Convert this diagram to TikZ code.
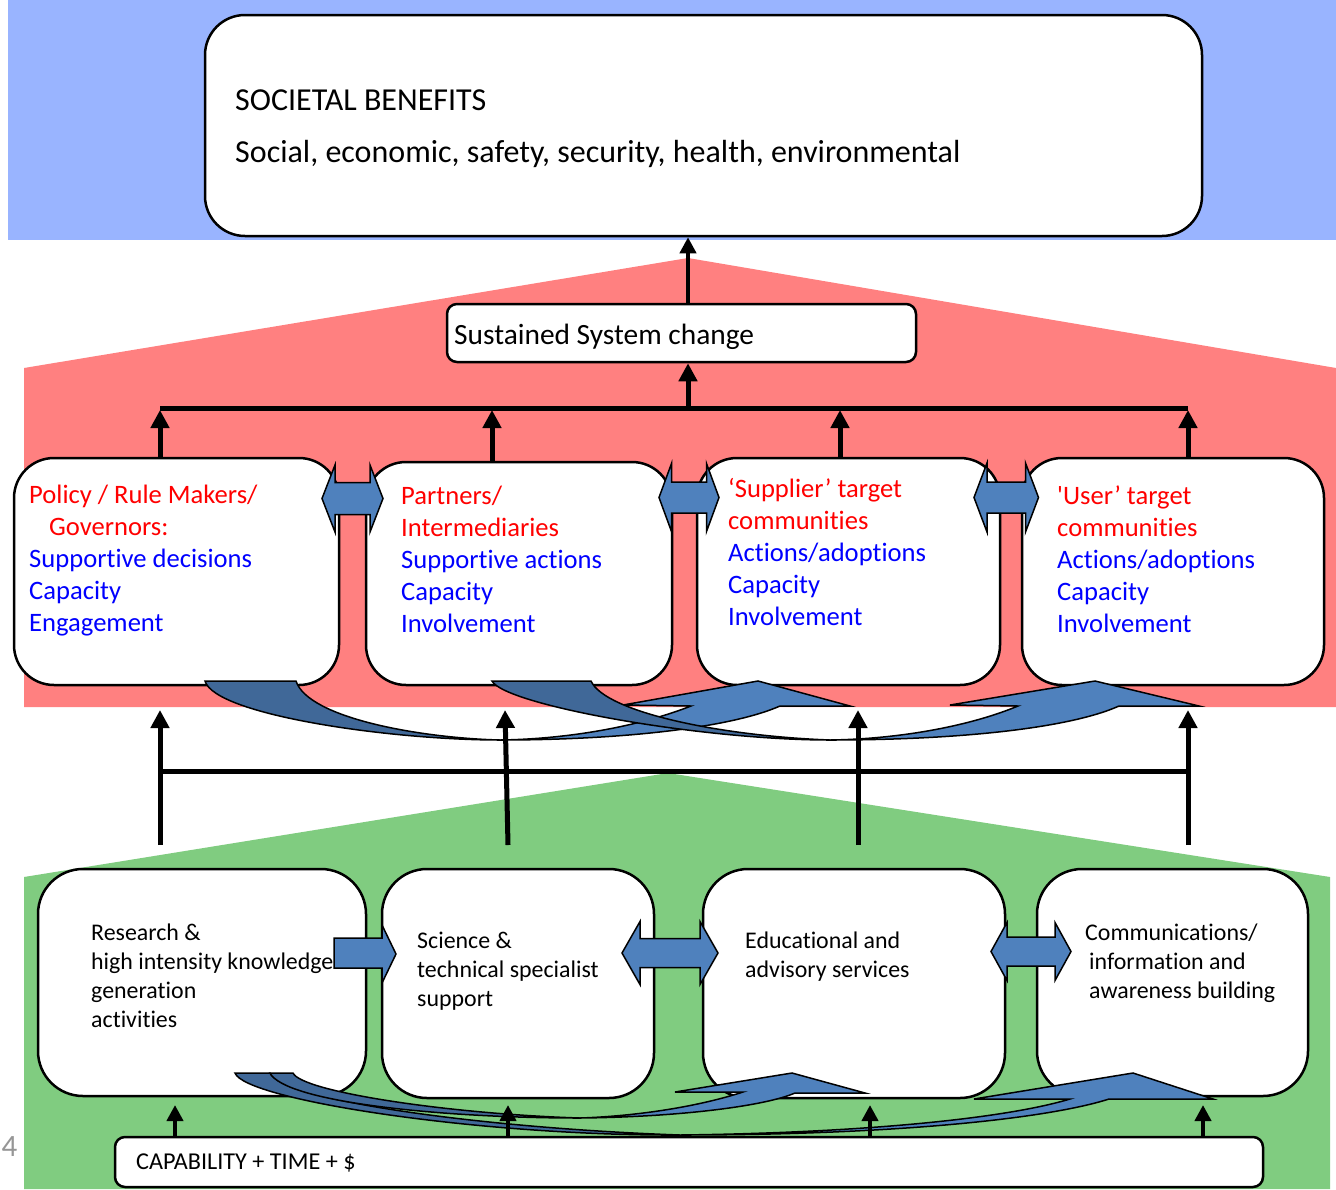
\documentclass[tikz,border=0pt]{standalone}
\usepackage{fontspec}
\setmainfont{Carlito}[Ligatures={TeX,NoCommon}]
\usetikzlibrary{arrows.meta}
\definecolor{skyband}{RGB}{153,180,255}
\definecolor{redband}{RGB}{255,128,128}
\definecolor{greenband}{RGB}{128,204,128}
\definecolor{arrowblue}{RGB}{79,129,189}
\definecolor{arrowdark}{RGB}{64,104,152}
\definecolor{txtred}{RGB}{255,0,0}
\definecolor{txtblue}{RGB}{0,0,255}
\definecolor{pagegray}{RGB}{150,150,150}

% block arrow with a head at both ends: left tip x, right tip x, head length, centre y, half head height, half shaft height
\newcommand\BlockDouble[6]{%
  \filldraw[blockarrow] (#1,#4) -- ({#1+#3},{#4-#5}) -- ({#1+#3},{#4-#6}) -- ({#2-#3},{#4-#6})
    -- ({#2-#3},{#4-#5}) -- (#2,#4) -- ({#2-#3},{#4+#5}) -- ({#2-#3},{#4+#6})
    -- ({#1+#3},{#4+#6}) -- ({#1+#3},{#4+#5}) -- cycle;}

\begin{document}
\begin{tikzpicture}[x=1pt,y=-1pt,
  card/.style={draw=black, line width=2.5pt, fill=white, rounded corners=#1, inner sep=0pt},
  card/.default=40pt,
  blockarrow/.style={fill=arrowblue, draw=black, line width=1.5pt, line join=miter},
  darkband/.style={fill=arrowdark, draw=black, line width=1.5pt, line join=miter},
  lightband/.style={fill=arrowblue, draw=black, line width=1.5pt, line join=miter},
  conn/.style={line width=5pt, -{Triangle[width=18pt,length=18pt]}},
  thinconn/.style={line width=4.5pt, -{Triangle[width=16pt,length=16pt]}},
  busbar/.style={line width=5pt},
  bigtext/.style={font=\fontsize{32}{38}\selectfont, inner sep=0pt, anchor=base west},
  midtext/.style={font=\fontsize{26.6}{32}\selectfont, inner sep=0pt, anchor=north west, align=left},
  lowtext/.style={font=\fontsize{23.9}{29}\selectfont, inner sep=0pt, anchor=north west, align=left},
]
\useasboundingbox (0,0) rectangle (1336,1189);
\fill[white] (0,0) rectangle (1336,1189);

% coloured bands
\fill[skyband] (8,0) rectangle (1336,240);
\fill[redband] (24,707) -- (24,368) -- (688,258) -- (1336,368) -- (1336,707) -- cycle;
\fill[greenband] (24,1189) -- (24,877) -- (668,773) -- (1330,877) -- (1330,1189) -- cycle;

% benefits and system change
\node[card=40pt, minimum width=997pt, minimum height=221pt] (top) at (703.5,125.5) {};
\node[bigtext] (toptitle) at (235,110) {SOCIETAL BENEFITS};
\node[bigtext] (toplist) at (235,162) {Social, economic, safety, security, health, environmental};
\node[card=10pt, minimum width=469pt, minimum height=58pt] (sus) at (681.5,333) {};
\node[font=\fontsize{29.4}{34}\selectfont, inner sep=0pt, anchor=base west] (sustxt) at (454,344) {Sustained System change};

% target groups
\node[card=40pt, minimum width=325pt, minimum height=227pt] (p1) at (176.5,571.5) {};
\node[card=40pt, minimum width=306pt, minimum height=223pt] (p2) at (519,573.5) {};
\node[card=40pt, minimum width=303pt, minimum height=227pt] (p3) at (848.5,571.5) {};
\node[card=40pt, minimum width=302pt, minimum height=227pt] (p4) at (1173,571.5) {};

\node[midtext] (p1txt) at (29,{503-22.4}) {%
  \strut\textcolor{txtred}{Policy / Rule Makers/}\\
  \strut\hspace*{20pt}\textcolor{txtred}{Governors:}\\
  \strut\textcolor{txtblue}{Supportive decisions}\\
  \strut\textcolor{txtblue}{Capacity}\\
  \strut\textcolor{txtblue}{Engagement}};
\node[midtext] (p2txt) at (401,{504.5-22.4}) {%
  \strut\textcolor{txtred}{Partners/}\\
  \strut\textcolor{txtred}{Intermediaries}\\
  \strut\textcolor{txtblue}{Supportive actions}\\
  \strut\textcolor{txtblue}{Capacity}\\
  \strut\textcolor{txtblue}{Involvement}};
\node[midtext] (p3txt) at (728,{497-22.4}) {%
  \strut\textcolor{txtred}{‘Supplier’ target}\\
  \strut\textcolor{txtred}{communities}\\
  \strut\textcolor{txtblue}{Actions/adoptions}\\
  \strut\textcolor{txtblue}{Capacity}\\
  \strut\textcolor{txtblue}{Involvement}};
\node[midtext] (p4txt) at (1057,{504-22.4}) {%
  \strut\textcolor{txtred}{\textquotesingle User’ target}\\
  \strut\textcolor{txtred}{communities}\\
  \strut\textcolor{txtblue}{Actions/adoptions}\\
  \strut\textcolor{txtblue}{Capacity}\\
  \strut\textcolor{txtblue}{Involvement}};

% activities
\node[card=45pt, minimum width=328pt, minimum height=227pt] (b1) at (202,982.5) {};
\node[card=45pt, minimum width=272pt, minimum height=229pt] (b2) at (518,983.5) {};
\node[card=45pt, minimum width=302pt, minimum height=229pt] (b3) at (854,983.5) {};
\node[card=45pt, minimum width=271pt, minimum height=227pt] (b4) at (1172.5,982.5) {};

\node[lowtext] (b1txt) at (91,{940.5-20.3}) {%
  \strut Research \&\\
  \strut high intensity knowledge\\
  \strut generation\\
  \strut activities};
\node[lowtext] (b2txt) at (417,{948.5-20.3}) {%
  \strut Science \&\\
  \strut technical specialist\\
  \strut support};
\node[lowtext] (b3txt) at (745,{948.5-20.3}) {%
  \strut Educational and\\
  \strut advisory services};
\node[lowtext] (b4txt) at (1085,{940.5-20.3}) {%
  \strut Communications/\\
  \strut\hspace*{4pt}information and\\
  \strut\hspace*{4pt}awareness building};

% resources
\node[card=10pt, minimum width=1148pt, minimum height=50pt] (cap) at (689,1162) {};
\node[font=\fontsize{24.2}{29}\selectfont, inner sep=0pt, anchor=base west] (captxt) at (136,1169.5) {CAPABILITY + TIME + \$};
\node[font=\fontsize{31}{36}\selectfont, inner sep=0pt, anchor=base west, text=pagegray] (pnum) at (1.5,1156) {4};

% two-way exchanges between neighbours
\BlockDouble{322}{383}{13}{498.5}{33.5}{16}
\BlockDouble{659}{719}{12.5}{497.5}{34}{15.5}
\BlockDouble{974}{1038.5}{13}{497.5}{34.5}{15.5}

\filldraw[blockarrow] (334,938) -- (382,938) -- (382,925) -- (396,954) -- (382,983) -- (382,968) -- (334,968) -- cycle;
\BlockDouble{622}{718}{18}{953}{31.5}{14.5}
\BlockDouble{991}{1071}{16}{951.5}{29}{14.5}

% curved arrows under the target groups
\filldraw[darkband] (205,681) -- (296,681) .. controls (308,718) and (420,738) .. (500,740)
  .. controls (390,740) and (215,715) .. (205,681) -- cycle;
\filldraw[lightband] (500,740) .. controls (620,740) and (730,728) .. (780,706) -- (850,706) -- (758,681)
  -- (623,705) -- (691,706) .. controls (640,726) and (570,739) .. (500,740) -- cycle;
\filldraw[darkband] (492,681) -- (591,681) .. controls (605,712) and (720,736) .. (830,740)
  .. controls (700,740) and (505,705) .. (492,681) -- cycle;
\filldraw[lightband] (830,740) .. controls (960,740) and (1070,728) .. (1119,706) -- (1199,706) -- (1095,681)
  -- (950,705) -- (1018,706) .. controls (970,726) and (900,739) .. (830,740) -- cycle;

% curved arrows under the activities
\filldraw[darkband] (235,1073) -- (270,1073) .. controls (282,1100) and (480,1128) .. (680,1135)
  .. controls (480,1136) and (245,1100) .. (235,1073) -- cycle;
\filldraw[lightband] (680,1135) .. controls (900,1135) and (1050,1118) .. (1109,1099) -- (1213,1099) -- (1133,1073)
  -- (974,1099) -- (1070,1099) .. controls (1000,1120) and (850,1133) .. (680,1135) -- cycle;
\filldraw[darkband] (270,1073) -- (293,1073) .. controls (302,1092) and (450,1114) .. (580,1118)
  .. controls (440,1118) and (285,1102) .. (270,1073) -- cycle;
\filldraw[lightband] (580,1118) .. controls (680,1117) and (765,1106) .. (795,1093) -- (865,1093) -- (792,1073)
  -- (675,1092) -- (743,1092) .. controls (700,1106) and (640,1116) .. (580,1118) -- cycle;

% upper connector bus
\coordinate (t1) at (160,410);
\coordinate (t2) at (492,410);
\coordinate (t3) at (840,410);
\coordinate (t4) at (1188,410);
\coordinate (tc) at (688,408);
\draw[conn] (p1.north -| t1) -- (t1);
\draw[conn] (p2.north -| t2) -- (t2);
\draw[conn] (p3.north -| t3) -- (t3);
\draw[conn] (p4.north -| t4) -- (t4);
\draw[busbar] (t1 |- tc) -- (t4 |- tc);
\draw[conn] (tc) -- (sus.south -| tc);
\draw[thinconn] (sus.north -| tc) -- (top.south -| tc);

% middle connector bus
\coordinate (u1) at (160,845);
\coordinate (u2) at (508,845);
\coordinate (u3) at (858,845);
\coordinate (u4) at (1188,845);
\coordinate (v1) at (160,710);
\coordinate (v2) at (505,710);
\coordinate (v3) at (858,710);
\coordinate (v4) at (1188,710);
\coordinate (mb) at (160,771);
\draw[busbar] (mb) -- (mb -| u4);
\draw[conn] (u1) -- (v1);
\draw[conn] (u2) -- (v2);
\draw[conn] (u3) -- (v3);
\draw[conn] (u4) -- (v4);

% resources feeding the activities
\coordinate (w1) at (175,1105);
\coordinate (w2) at (508,1105);
\coordinate (w3) at (870,1105);
\coordinate (w4) at (1203,1105);
\draw[thinconn] (cap.north -| w1) -- (w1);
\draw[thinconn] (cap.north -| w2) -- (w2);
\draw[thinconn] (cap.north -| w3) -- (w3);
\draw[thinconn] (cap.north -| w4) -- (w4);
\end{tikzpicture}
\end{document}
